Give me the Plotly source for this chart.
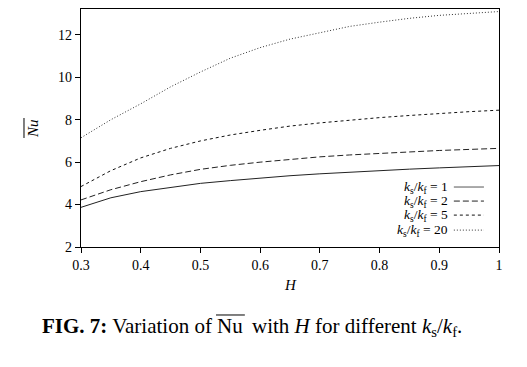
import plotly.graph_objects as go

H = [0.3, 0.35, 0.4, 0.45, 0.5, 0.55, 0.6, 0.65, 0.7, 0.75, 0.8, 0.85, 0.9, 0.95, 1.0]
nu_k1 = [3.87, 4.32, 4.61, 4.82, 5.0, 5.13, 5.25, 5.36, 5.45, 5.53, 5.6, 5.67, 5.73, 5.79, 5.84]
nu_k2 = [4.22, 4.7, 5.08, 5.4, 5.66, 5.85, 6.0, 6.13, 6.25, 6.34, 6.42, 6.49, 6.55, 6.6, 6.65]
nu_k5 = [4.85, 5.6, 6.2, 6.65, 7.0, 7.28, 7.5, 7.7, 7.85, 7.98, 8.1, 8.2, 8.3, 8.38, 8.45]
nu_k20 = [7.15, 8.0, 8.75, 9.55, 10.25, 10.9, 11.4, 11.8, 12.1, 12.4, 12.6, 12.78, 12.92, 13.02, 13.1]

series = [("1", nu_k1, "solid", "#222222"),
          ("2", nu_k2, "6px,3px", "#222222"),
          ("5", nu_k5, "3px,3px", "#111111"),
          ("20", nu_k20, "1px,2px", "#333333")]
x_ticks = [0.3, 0.4, 0.5, 0.6, 0.7, 0.8, 0.9, 1.0]
x_ticklabels = ["0.3", "0.4", "0.5", "0.6", "0.7", "0.8", "0.9", "1"]
y_ticks = [2, 4, 6, 8, 10, 12]

SERIF = '"Liberation Serif", "Times New Roman", serif'
fig = go.Figure()
for name, vals, dash, col in series:
    fig.add_trace(go.Scatter(x=H, y=vals, mode="lines", name=name,
                             line=dict(color=col, width=1, dash=dash), showlegend=False))

# custom legend (text right-aligned, sample to the right)
leg_y = [0.252, 0.193, 0.134, 0.071]
for (name, vals, dash, col), yy in zip(series, leg_y):
    fig.add_annotation(x=0.881, y=yy, xref="paper", yref="paper", xanchor="right", yanchor="middle",
                       text=f"<i>k</i><sub>s</sub>/<i>k</i><sub>f</sub> = {name}", showarrow=False,
                       borderpad=0, font=dict(family=SERIF, size=13.5, color="black"))
    fig.add_shape(type="line", xref="paper", yref="paper", x0=0.892, x1=0.964, y0=yy, y1=yy,
                  line=dict(color="#555555" if dash == "solid" else col, width=1, dash=dash))

# y label with overline
fig.add_annotation(x=-0.139, y=0.5, xref="paper", yref="paper", text="<i>Nu</i>", textangle=-90,
                   showarrow=False, font=dict(family=SERIF, size=15, color="black"))
fig.add_shape(type="line", xref="paper", yref="paper", x0=-0.1364, x1=-0.1364, y0=0.458, y1=0.542,
              line=dict(color="black", width=1))

# x label
fig.add_annotation(x=0.5, y=-0.16, xref="paper", yref="paper", text="<i>H</i>", showarrow=False,
                   yanchor="middle", font=dict(family=SERIF, size=15, color="black"))

# caption in three parts so the overline sits on "Nu"
cap_font = dict(family=SERIF, size=21, color="black")
cap_y = -0.273
fig.add_annotation(x=0.318, y=cap_y, xref="paper", yref="paper", xanchor="right", yanchor="top",
                   text="<b>FIG. 7:</b> Variation of", showarrow=False, font=cap_font)
fig.add_annotation(x=0.3575, y=cap_y, xref="paper", yref="paper", xanchor="center", yanchor="top",
                   text="Nu", showarrow=False, font=cap_font)
fig.add_annotation(x=0.405, y=cap_y, xref="paper", yref="paper", xanchor="left", yanchor="top",
                   text="with <i>H</i> for different <i>k</i><sub>s</sub>/<i>k</i><sub>f</sub>.",
                   showarrow=False, font=cap_font)
fig.add_shape(type="line", xref="paper", yref="paper", x0=0.323, x1=0.392, y0=-0.2857, y1=-0.2857,
              line=dict(color="black", width=1))

axis_common = dict(showline=True, linecolor="black", linewidth=1.3, mirror=True, ticks="outside",
                   ticklen=5, tickcolor="black", showgrid=False, zeroline=False,
                   tickfont=dict(family=SERIF, size=14, color="black"))
fig.update_xaxes(range=[0.3, 1.0], tickvals=x_ticks, ticktext=x_ticklabels, **axis_common)
fig.update_yaxes(range=[2, 13.22], tickvals=y_ticks, **axis_common)
# page body has an 8px margin; plot area should land at page x 81..499, y 9..247
fig.update_layout(width=511, height=351, margin=dict(l=73, r=20, t=1, b=112),
                  plot_bgcolor="white", paper_bgcolor="white")
fig.write_html("out.html")
